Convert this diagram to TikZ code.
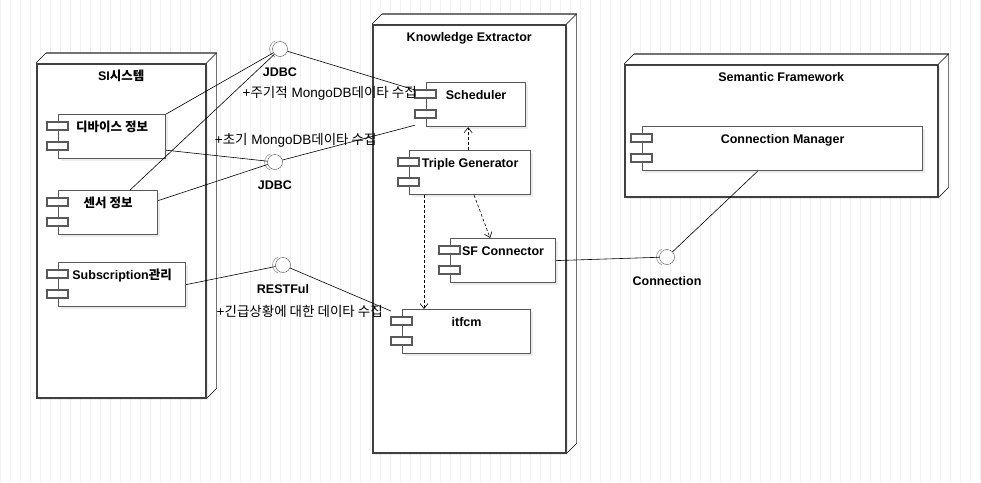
\documentclass[tikz,border=0pt]{standalone}
\usepackage{fontspec}
\setmainfont{Liberation Sans}
\newfontfamily\kr{Noto Sans CJK KR}
\usetikzlibrary{arrows.meta,shadows,backgrounds}

\begin{document}
\begin{tikzpicture}[x=1pt,y=-1pt,font=\fontsize{12.5}{15}\selectfont,
    bold/.style={font=\fontsize{12.5}{15}\selectfont\bfseries},
    box/.style={rectangle,draw=black!75,line width=1.5pt,fill=white,anchor=north west,inner sep=0pt,
      drop shadow={shadow xshift=2pt,shadow yshift=-2pt,opacity=.15}},
    comp/.style={rectangle,draw=black!65,line width=1.2pt,fill=white,anchor=north west,
      minimum height=44pt,inner sep=3pt,text height=14pt,text depth=24pt,bold,
      drop shadow={shadow xshift=2pt,shadow yshift=-2pt,opacity=.15}},
    tab/.style={draw=black!65,line width=1.2pt,fill=white},
    iface/.style={circle,draw=black!70,fill=white,minimum size=15pt,inner sep=0pt},
    ilabel/.style={bold,yshift=-8pt},
    link/.style={draw,line width=.6pt},
    dep/.style={densely dashed,line width=.6pt,-{Straight Barb[length=5pt,width=8pt]}},
    role/.style={inner sep=1pt,font=\fontsize{13.5}{16}\selectfont}]
    \useasboundingbox (0,0) rectangle (981,482);
    % nodes
    \node(si)[box,minimum width=169pt,minimum height=334pt,
      label={[anchor=base,yshift=-17pt,bold]north:SI{\kr 시스템}}] at (36,63) {};
    \node(ke)[box,minimum width=193pt,minimum height=428pt,
      label={[anchor=base,yshift=-17pt,bold]north:Knowledge Extractor}] at (372,24) {};
    \node(sf)[box,minimum width=313pt,minimum height=132pt,
      label={[anchor=base,yshift=-17pt,bold]north:Semantic Framework}] at (624,64) {};
    % components
    \node(dev)[comp,minimum width=107pt] at (58,114) {\kr 디바이스 정보};
    \node(sen)[comp,minimum width=99pt] at (58,190) {\kr 센서 정보};
    \node(sub)[comp,minimum width=127pt] at (58,262) {Subscription{\kr 관리}};
    \node(sch)[comp,minimum width=99pt] at (426,82) {Scheduler};
    \node(tg)[comp,minimum width=121pt] at (409,150) {Triple Generator};
    \node(sfc)[comp,minimum width=105pt] at (450,238) {SF Connector};
    \node(itf)[comp,minimum width=128pt] at (402,309) {itfcm};
    \node(cm)[comp,minimum width=280pt] at (642,126) {Connection Manager};
    \foreach \n in {dev,sen,sub,sch,tg,sfc,itf,cm}{
      \draw[tab] ([shift={(-11,8)}]\n.north west) rectangle ++(21,8);
      \draw[tab] ([shift={(-11,28)}]\n.north west) rectangle ++(21,8);
    }
    % interfaces
    \node(ja)[iface,label={[ilabel]below:JDBC}] at (280,49) {};
    \node(jb)[iface,label={[ilabel]below:JDBC}] at (275,162) {};
    \node(rest)[iface,label={[ilabel]below:RESTFul}] at (283,265) {};
    \node(conn)[iface,label={[ilabel]below:Connection}] at (667,257) {};
    \foreach \n in {ja,jb,rest,conn}
      \draw[black!55] ([xshift=-2pt]\n.center) ++(110:8.5) arc (110:250:8.5);
    % connectors
    \draw[link] (dev.north east) -- (ja);
    \draw[link] ([xshift=22pt]sen.north) -- (ja);
    \draw[link] (ja) -- ([shift={(-11,8)}]sch.north west)
      node[role,pos=1,anchor=east,xshift=3pt,yshift=-3pt]{+{\kr 주기적} MongoDB{\kr 데이타 수집}};
    \draw[link] ([yshift=9pt]dev.south east) -- (jb);
    \draw[link] ([yshift=12pt]sen.east) -- (jb);
    \draw[link] (jb) -- ([shift={(-11,-2)}]sch.south west)
      node[role,pos=.1,yshift=16pt]{+{\kr 초기} MongoDB{\kr 데이타 수집}};
    \draw[link] (sub.east) -- (rest);
    \draw[link] (rest) -- ([shift={(-11,2)}]itf.north west)
      node[role,pos=1,anchor=east,xshift=-7pt]{+{\kr 긴급상황에 대한 데이타 수집}};
    \draw[link] (sfc.east) -- (conn);
    \draw[link] (conn) -- ([xshift=-25pt]cm.south);
    \draw[dep] ([xshift=-2pt]tg.north) -- ([xshift=-2pt]tg.north |- sch.south);
    \draw[dep] ([xshift=4pt]tg.south) -- ([xshift=-13pt]sfc.north);
    \draw[dep] ([xshift=15pt]tg.south west) -- ([xshift=15pt]tg.south west |- itf.north);
    % grid and 3d sides
    \begin{scope}[on background layer]
      \draw[black!6,line width=.3pt,step=10] (0,0) grid (981,482);
      \foreach \n in {si,ke,sf}{
        \fill[white] (\n.north west) -- ++(10,-10) -- ([shift={(10,-10)}]\n.north east)
          -- ([shift={(10,-10)}]\n.south east) -- (\n.south east) -- (\n.north east) -- cycle;
        \draw[black!55,line width=1.2pt] ([shift={(10,-10)}]\n.north west) -- ([shift={(10,-10)}]\n.north east)
          -- ([shift={(10,-10)}]\n.south east);
        \draw[thin] (\n.north west) -- ++(10,-10) (\n.north east) -- ++(10,-10) (\n.south east) -- ++(10,-10);
      }
    \end{scope}
\end{tikzpicture}
\end{document}
